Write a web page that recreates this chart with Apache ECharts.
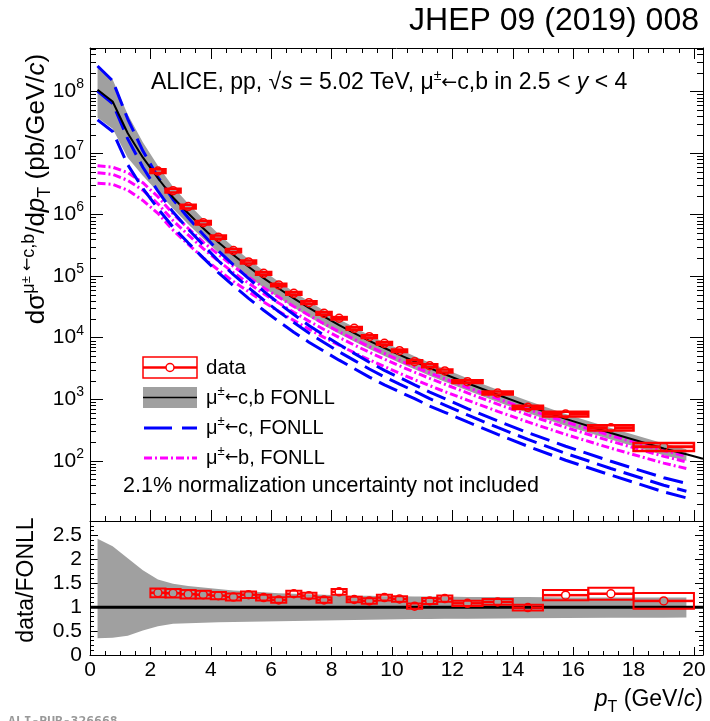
<!DOCTYPE html>
<html><head><meta charset="utf-8">
<script src="https://cdn.jsdelivr.net/npm/echarts@6.0.0/dist/echarts.min.js"></script>
<style>html,body{margin:0;padding:0;background:#fff}#c{width:710px;height:721px}</style>
</head><body><div id="c"></div>
<script>
// ---------- FONLL theory grid ----------
const ptTh = [0.25,0.75,1.25,1.75,2.25,2.75,3.25,3.75,4.25,4.75,5.25,5.75,6.25,6.75,7.25,7.75,8.25,8.75,9.25,9.75,10.25,10.75,11.25,11.75,12.5,13.5,14.5,15.75,17.25,19.0,19.75];
const fonllCen = [1.07e8,6.9e7,2.1e7,8.5e6,3.9e6,1.9e6,1.05e6,6.0e5,3.55e5,2.2e5,1.42e5,9.3e4,6.3e4,4.35e4,3.05e4,2.2e4,1.6e4,1.19e4,8.9e3,6.8e3,5.25e3,4.1e3,3.2e3,2.55e3,1820,1180,780,480,283,158,128];
const fonllCenTailPt = [20.3];
const fonllCenTail = [108];
const fonllUp = [2.6e8,1.57e8,4.24e7,1.5e7,6.2e6,2.83e6,1.51e6,8.46e5,4.9e5,2.97e5,1.89e5,1.22e5,8.13e4,5.57e4,3.87e4,2.77e4,2.0e4,1.48e4,1.1e4,8.36e3,6.46e3,5.0e3,3.9e3,3.11e3,2200,1428,944,576,340,190,154];
const fonllLow = [3.75e7,2.48e7,8.4e6,4.3e6,2.34e6,1.24e6,6.98e5,4.05e5,2.43e5,1.52e5,9.87e4,6.51e4,4.44e4,3.09e4,2.18e4,1.58e4,1.16e4,8.69e3,6.54e3,5.03e3,3.91e3,3.08e3,2.4e3,1.93e3,1380,903,600,372,221,123,100];
const cCen = [1.02e8,6.4e7,1.7e7,5.9e6,2.4e6,1.1e6,5.8e5,3.2e5,1.78e5,1.06e5,6.5e4,4.1e4,2.65e4,1.76e4,1.19e4,8.36e3,5.9e3,4.28e3,3.1e3,2.3e3,1.76e3,1.35e3,1.02e3,803,555,348,222,132,75,40,32];
const cUp = [2.6e8,1.5e8,3.57e7,1.09e7,4.08e6,1.76e6,8.87e5,4.74e5,2.58e5,1.52e5,9.17e4,5.7e4,3.63e4,2.38e4,1.58e4,1.1e4,7.73e3,5.56e3,4.0e3,2.94e3,2.25e3,1.71e3,1.3e3,1020,705,445,286,172,98,53,43];
const cLow = [3.47e7,2.24e7,6.46e6,2.66e6,1.25e6,6.27e5,3.48e5,1.98e5,1.14e5,7.0e4,4.36e4,2.79e4,1.83e4,1.23e4,8.45e3,6.02e3,4.31e3,3.15e3,2.29e3,1.71e3,1.32e3,1.02e3,775,614,427,268,172,102,58.5,31.2,25];
const bCen = [4.8e6,4.5e6,3.6e6,2.5e6,1.5e6,8.0e5,4.7e5,2.8e5,1.77e5,1.14e5,7.7e4,5.2e4,3.65e4,2.59e4,1.86e4,1.36e4,1.01e4,7.6e3,5.8e3,4.5e3,3.49e3,2.75e3,2.18e3,1.75e3,1265,832,558,348,208,118,96];
const bUp = [6.2e6,5.9e6,4.8e6,3.3e6,1.95e6,1.03e6,6.0e5,3.57e5,2.25e5,1.44e5,9.7e4,6.5e4,4.56e4,3.22e4,2.31e4,1.68e4,1.25e4,9.4e3,7.16e3,5.55e3,4.3e3,3.38e3,2.68e3,2.15e3,1550,1020,685,428,257,146,119];
const bLow = [3.24e6,3.1e6,2.5e6,1.7e6,1.05e6,5.6e5,3.3e5,1.98e5,1.26e5,8.2e4,5.6e4,3.8e4,2.68e4,1.91e4,1.38e4,1.01e4,7.55e3,5.7e3,4.36e3,3.39e3,2.64e3,2.08e3,1.66e3,1.33e3,965,636,428,268,160,91.5,75];
const ratioBandUp = [2.43,2.27,2.02,1.77,1.58,1.49,1.44,1.41,1.38,1.35,1.33,1.31,1.29,1.28,1.27,1.26,1.25,1.24,1.24,1.23,1.23,1.22,1.22,1.22,1.21,1.21,1.21,1.2,1.2,1.2,1.2];
const ratioBandLow = [0.35,0.36,0.40,0.51,0.60,0.655,0.665,0.675,0.685,0.69,0.695,0.70,0.705,0.71,0.715,0.72,0.725,0.73,0.735,0.74,0.745,0.75,0.75,0.755,0.76,0.765,0.77,0.775,0.78,0.78,0.785];
const ratioLineX = [0, 20.3];
const ratioLineY = [1, 1];

// ---------- data ----------
const binLo = [2,2.5,3,3.5,4,4.5,5,5.5,6,6.5,7,7.5,8,8.5,9,9.5,10,10.5,11,11.5,12,13,14,15,16.5,18];
const binHi = [2.5,3,3.5,4,4.5,5,5.5,6,6.5,7,7.5,8,8.5,9,9.5,10,10.5,11,11.5,12,13,14,15,16.5,18,20];
const dataPt = [2.25,2.75,3.25,3.75,4.25,4.75,5.25,5.75,6.25,6.75,7.25,7.75,8.25,8.75,9.25,9.75,10.25,10.75,11.25,11.75,12.5,13.5,14.5,15.75,17.25,19];
const dataVal = [5.1e6,2.45e6,1.35e6,7.4e5,4.3e5,2.6e5,1.7e5,1.11e5,7.2e4,5.27e4,3.71e4,2.49e4,2.07e4,1.42e4,1.04e4,8.1e3,6.15e3,4.07e3,3.5e3,2.88e3,1.93e3,1.26e3,738,575,344,169];
const ratioVal = [1.30,1.29,1.27,1.26,1.24,1.21,1.26,1.20,1.15,1.28,1.24,1.15,1.32,1.16,1.13,1.20,1.17,1.02,1.13,1.18,1.08,1.11,0.99,1.25,1.28,1.13];
const sysRel = [0.07,0.07,0.07,0.065,0.06,0.06,0.055,0.05,0.05,0.05,0.05,0.05,0.045,0.05,0.05,0.05,0.05,0.055,0.055,0.055,0.05,0.055,0.063,0.086,0.098,0.145];
const statRel = [0.01,0.01,0.01,0.01,0.01,0.01,0.01,0.012,0.013,0.015,0.017,0.02,0.02,0.022,0.025,0.028,0.03,0.035,0.038,0.04,0.03,0.04,0.05,0.05,0.06,0.07];

// ---------- helpers ----------
const F = "'Liberation Sans', Arial, Helvetica, sans-serif";
const RED = '#ff0000', BLUE = '#0000ff', MAG = '#ff00ff', GREY = '#a0a0a0';
const Y_MIN = 10.5, Y_MAX = 5.1e8, X_MAX = 20.3;
const pairs = (xs, ys) => xs.map((x, i) => [x, ys[i]]);

function bandRender(xs, up, lo) {
  return function (params, api) {
    const pts = [];
    for (let i = 0; i < xs.length; i++) pts.push(api.coord([xs[i], up[i]]));
    for (let i = xs.length - 1; i >= 0; i--) pts.push(api.coord([xs[i], lo[i]]));
    return {type: 'polygon', shape: {points: pts}, style: {fill: GREY}};
  };
}
function dataRender(vals, boxLw, barLw) {
  return function (params, api) {
    const i = params.dataIndex;
    const v = vals[i], s = sysRel[i], st = statRel[i];
    const a = api.coord([binLo[i], v * (1 + s)]);
    const b = api.coord([binHi[i], v * (1 - s)]);
    const c = api.coord([dataPt[i], v]);
    const r = 4;
    const ch = [
      {type: 'rect', shape: {x: a[0], y: a[1], width: b[0] - a[0], height: b[1] - a[1]}, style: {fill: 'none', stroke: RED, lineWidth: boxLw}},
      {type: 'line', shape: {x1: a[0], y1: c[1], x2: c[0] - r, y2: c[1]}, style: {stroke: RED, lineWidth: barLw}},
      {type: 'line', shape: {x1: c[0] + r, y1: c[1], x2: b[0], y2: c[1]}, style: {stroke: RED, lineWidth: barLw}},
      {type: 'circle', shape: {cx: c[0], cy: c[1], r: r}, style: {fill: 'none', stroke: RED, lineWidth: 1.5}}
    ];
    const su = api.coord([dataPt[i], v * (1 + st)]), sd = api.coord([dataPt[i], v * (1 - st)]);
    if (c[1] - su[1] > r) ch.push({type: 'line', shape: {x1: c[0], y1: c[1] - r, x2: c[0], y2: su[1]}, style: {stroke: RED, lineWidth: 1.5}});
    if (sd[1] - c[1] > r) ch.push({type: 'line', shape: {x1: c[0], y1: c[1] + r, x2: c[0], y2: sd[1]}, style: {stroke: RED, lineWidth: 1.5}});
    return {type: 'group', children: ch};
  };
}
// minor ticks (2..9 x 10^n) of the log axis, placed through the axis scale
function logMinorRender(params, api) {
  const ch = [];
  const xl = api.coord([0, 100])[0], xr = api.coord([X_MAX, 100])[0];
  for (let n = 1; n <= 8; n++) {
    for (let k = 2; k <= 9; k++) {
      const v = k * Math.pow(10, n);
      if (v <= Y_MIN || v >= Y_MAX) continue;
      const y = Math.round(api.coord([0, v])[1]) + 0.5;
      ch.push({type: 'line', shape: {x1: xl, y1: y, x2: xl + 6, y2: y}, style: {stroke: '#000', lineWidth: 1}});
      ch.push({type: 'line', shape: {x1: xr - 6, y1: y, x2: xr, y2: y}, style: {stroke: '#000', lineWidth: 1}});
    }
  }
  return {type: 'group', children: ch};
}
function lineSeries(xs, ys, color, dash, lw, z, xi, yi) {
  return {type: 'line', xAxisIndex: xi || 0, yAxisIndex: yi || 0, data: pairs(xs, ys), showSymbol: false, symbol: 'none',
    lineStyle: {color: color, width: lw, type: dash}, z: z, silent: true, animation: false};
}

const axLine = {show: true, onZero: false, lineStyle: {color: '#000', width: 1}};
const tickStyle = {color: '#000', width: 1};
function xAx(grid, pos, showLabel, tl, ml) {
  return {gridIndex: grid, type: 'value', min: 0, max: X_MAX, interval: 2, position: pos,
    axisLine: axLine, splitLine: {show: false},
    axisTick: {show: true, inside: true, length: tl, lineStyle: tickStyle},
    minorTick: {show: true, splitNumber: 4, length: ml, lineStyle: tickStyle},
    axisLabel: {show: showLabel, margin: 5, fontSize: 21, fontFamily: F, color: '#000', showMaxLabel: true,
      formatter: v => (Math.abs(v - Math.round(v)) < 1e-6 && v <= 20) ? String(Math.round(v)) : ''}};
}
function yLog(pos, showLabel) {
  return {gridIndex: 0, type: 'log', logBase: 10, min: Y_MIN, max: Y_MAX, position: pos,
    axisLine: axLine, splitLine: {show: false},
    axisTick: {show: true, inside: true, length: 13, lineStyle: tickStyle},
    minorTick: {show: false},
    axisLabel: {show: showLabel, margin: 6, fontSize: 21, fontFamily: F, color: '#000', lineHeight: 28,
      rich: {sup: {fontSize: 14, fontFamily: F, lineHeight: 14, verticalAlign: 'top', color: '#000'}},
      formatter: v => {
        const l = Math.log10(v);
        return Math.abs(l - Math.round(l)) < 1e-6 ? '10{sup|' + Math.round(l) + '}' : '';
      }}};
}
function yRatio(pos, showLabel) {
  return {gridIndex: 1, type: 'value', min: 0, max: 2.8, interval: 0.5, position: pos,
    axisLine: axLine, splitLine: {show: false},
    axisTick: {show: true, inside: true, length: 8, lineStyle: tickStyle},
    minorTick: {show: true, splitNumber: 5, length: 4, lineStyle: tickStyle},
    axisLabel: {show: showLabel, margin: 8, fontSize: 21, fontFamily: F, color: '#000',
      formatter: v => (Math.abs(v * 2 - Math.round(v * 2)) < 1e-6) ? String(v) : ''}};
}
const supS = {fontSize: 13, fontFamily: F, lineHeight: 13, verticalAlign: 'top'};
const arrS = {fontSize: 16, fontFamily: "'DejaVu Sans', sans-serif", lineHeight: 26};

const option = {
  animation: false,
  backgroundColor: '#fff',
  grid: [
    {left: 90, right: 7, top: 48, height: 473},
    {left: 90, right: 7, top: 521, height: 134}
  ],
  xAxis: [xAx(0, 'bottom', false, 11, 5), xAx(0, 'top', false, 11, 5), xAx(1, 'bottom', true, 8, 4)],
  yAxis: [yLog('left', true), yLog('right', false), yRatio('left', true), yRatio('right', false)],
  series: [
    {type: 'custom', xAxisIndex: 0, yAxisIndex: 0, data: [[5, 1000]], renderItem: bandRender(ptTh, fonllUp, fonllLow), z: 1, silent: true, clip: true},
    lineSeries(ptTh, bUp, MAG, [8, 3, 2, 3], 3, 2),
    lineSeries(ptTh, bCen, MAG, [8, 3, 2, 3], 3, 2),
    lineSeries(ptTh, bLow, MAG, [8, 3, 2, 3], 3, 2),
    lineSeries(ptTh, cUp, BLUE, [20, 8], 3, 3),
    lineSeries(ptTh, cCen, BLUE, [20, 8], 3, 3),
    lineSeries(ptTh, cLow, BLUE, [20, 8], 3, 3),
    lineSeries(ptTh.concat(fonllCenTailPt), fonllCen.concat(fonllCenTail), '#000', 'solid', 2, 4),
    {type: 'custom', xAxisIndex: 0, yAxisIndex: 0, data: pairs(dataPt, dataVal), encode: {x: 0, y: 1}, renderItem: dataRender(dataVal, 2.5, 3), z: 5, silent: true, clip: true},
    {type: 'custom', xAxisIndex: 0, yAxisIndex: 0, data: [[5, 1000]], renderItem: logMinorRender, z: 6, silent: true, clip: false},
    {type: 'custom', xAxisIndex: 2, yAxisIndex: 2, data: [[5, 1]], renderItem: bandRender(ptTh, ratioBandUp, ratioBandLow), z: 1, silent: true, clip: true},
    lineSeries(ratioLineX, ratioLineY, '#000', 'solid', 3, 4, 2, 2),
    {type: 'custom', xAxisIndex: 2, yAxisIndex: 2, data: pairs(dataPt, ratioVal), encode: {x: 0, y: 1}, renderItem: dataRender(ratioVal, 2, 2.5), z: 5, silent: true, clip: true}
  ],
  graphic: [
    {type: 'text', x: 699, y: 21, style: {text: 'JHEP 09 (2019) 008', fontSize: 32, fontFamily: F, fill: '#000', align: 'right', verticalAlign: 'middle'}},
    {type: 'text', x: 151, y: 83, style: {text: 'ALICE, pp, √{it|s} = 5.02 TeV, μ{sup|±}{arr|←}c,b in 2.5 < {it|y} < 4', fontSize: 23, fontFamily: F, fill: '#000', align: 'left', verticalAlign: 'middle', lineHeight: 28,
      rich: {it: {fontStyle: 'italic', fontSize: 23, fontFamily: F, lineHeight: 28}, sup: {fontSize: 14, fontFamily: F, lineHeight: 14, verticalAlign: 'top'}, arr: {fontSize: 19, fontFamily: "'DejaVu Sans', sans-serif", lineHeight: 28}}}},
    // legend: data
    {type: 'rect', shape: {x: 143, y: 357, width: 54, height: 21}, style: {fill: 'none', stroke: RED, lineWidth: 1.5}},
    {type: 'line', shape: {x1: 143, y1: 367.5, x2: 166, y2: 367.5}, style: {stroke: RED, lineWidth: 2.5}},
    {type: 'line', shape: {x1: 174, y1: 367.5, x2: 197, y2: 367.5}, style: {stroke: RED, lineWidth: 2.5}},
    {type: 'circle', shape: {cx: 170, cy: 367.5, r: 4}, style: {fill: 'none', stroke: RED, lineWidth: 1.5}},
    // legend: band
    {type: 'rect', shape: {x: 143, y: 387, width: 54, height: 21}, style: {fill: GREY}},
    {type: 'line', shape: {x1: 143, y1: 397.5, x2: 197, y2: 397.5}, style: {stroke: '#000', lineWidth: 1.5}},
    // legend: c
    {type: 'line', shape: {x1: 144, y1: 428, x2: 197, y2: 428}, style: {stroke: BLUE, lineWidth: 3, lineDash: [28, 10]}},
    // legend: b
    {type: 'line', shape: {x1: 144, y1: 458, x2: 197, y2: 458}, style: {stroke: MAG, lineWidth: 3, lineDash: [8, 3, 2, 3]}},
    {type: 'text', x: 206, y: 368, style: {text: 'data', fontSize: 20.5, fontFamily: F, fill: '#000', align: 'left', verticalAlign: 'middle'}},
    {type: 'text', x: 206, y: 398, style: {text: 'μ{sup|±}{arr|←}c,b FONLL', fontSize: 20, fontFamily: F, fill: '#000', align: 'left', verticalAlign: 'middle', lineHeight: 26, rich: {sup: supS, arr: arrS}}},
    {type: 'text', x: 206, y: 428, style: {text: 'μ{sup|±}{arr|←}c, FONLL', fontSize: 20, fontFamily: F, fill: '#000', align: 'left', verticalAlign: 'middle', lineHeight: 26, rich: {sup: supS, arr: arrS}}},
    {type: 'text', x: 206, y: 458, style: {text: 'μ{sup|±}{arr|←}b, FONLL', fontSize: 20, fontFamily: F, fill: '#000', align: 'left', verticalAlign: 'middle', lineHeight: 26, rich: {sup: supS, arr: arrS}}},
    {type: 'text', x: 123, y: 486, style: {text: '2.1% normalization uncertainty not included', fontSize: 21.5, fontFamily: F, fill: '#000', align: 'left', verticalAlign: 'middle'}},
    // axis titles
    {type: 'text', x: 37, y: 189, rotation: Math.PI / 2, style: {text: 'dσ{sup|μ}{sup2|±}{sup| }{arr|←}{sup|c,b}/d{it|p}{sub|T} (pb/GeV/{it|c})', fontSize: 26, fontFamily: F, fill: '#000', align: 'center', verticalAlign: 'middle', lineHeight: 34,
      rich: {sup: {fontSize: 18, fontFamily: F, lineHeight: 18, verticalAlign: 'top'}, sup2: {fontSize: 13, fontFamily: F, lineHeight: 13, verticalAlign: 'top'}, arr: {fontSize: 16, fontFamily: "'DejaVu Sans', sans-serif", lineHeight: 18, verticalAlign: 'top'}, it: {fontStyle: 'italic', fontSize: 26, fontFamily: F, lineHeight: 34}, sub: {fontSize: 18, fontFamily: F, lineHeight: 18, verticalAlign: 'bottom'}}}},
    {type: 'text', x: 27, y: 580, rotation: Math.PI / 2, style: {text: 'data/FONLL', fontSize: 23, fontFamily: F, fill: '#000', align: 'center', verticalAlign: 'middle'}},
    {type: 'text', x: 703, y: 700, style: {text: '{it|p}{sub|T} (GeV/{it|c})', fontSize: 23, fontFamily: F, fill: '#000', align: 'right', verticalAlign: 'middle', lineHeight: 32,
      rich: {it: {fontStyle: 'italic', fontSize: 23, fontFamily: F, lineHeight: 32}, sub: {fontSize: 16, fontFamily: F, lineHeight: 16, verticalAlign: 'bottom'}}}},
    {type: 'text', x: 8, y: 715, style: {text: 'ALI-PUB-326668', fontSize: 13, fontWeight: 'bold', fontFamily: "'DejaVu Sans Mono', monospace", fill: '#999', align: 'left', verticalAlign: 'top'}}
  ]
};
const chart = echarts.init(document.getElementById('c'), null, {renderer: 'canvas'});
chart.setOption(option);
</script></body></html>
